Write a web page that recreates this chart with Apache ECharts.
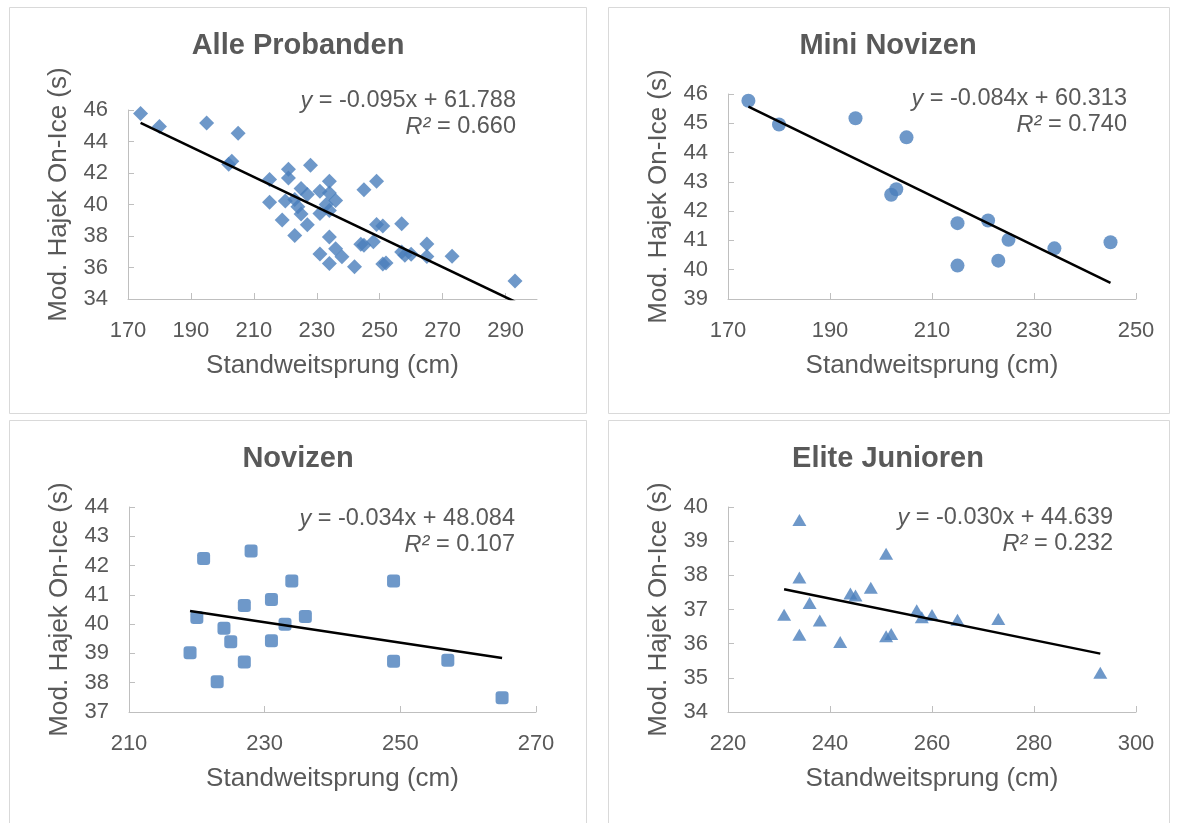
<!DOCTYPE html>
<html>
<head>
<meta charset="utf-8">
<script src="https://cdn.jsdelivr.net/npm/echarts@6/dist/echarts.min.js"></script>
<style>
  html, body { margin: 0; padding: 0; background: #fff; }
  #chart { width: 1178px; height: 823px; }
</style>
</head>
<body>
<div id="chart"></div>
<script>
// 数据 (Standweitsprung cm / Hajek s)
const miniX = [174, 180, 195, 205, 202, 203, 215, 215, 221, 225, 223, 234, 245]
const miniY = [45.77, 44.96, 45.17, 44.52, 42.56, 42.75, 41.59, 40.14, 41.68, 41.02, 40.31, 40.73, 40.94]
const novX = [221, 228, 234, 231, 227, 236, 220, 233, 224, 225, 231, 219, 227, 223, 249, 249, 257, 265]
const novY = [42.24, 42.5, 41.47, 40.84, 40.64, 40.26, 40.23, 40.0, 39.86, 39.4, 39.43, 39.02, 38.71, 38.03, 41.47, 38.73, 38.77, 37.49]
const eliteX = [234, 234, 251, 236, 231, 234, 238, 242, 244, 245, 248, 251, 252, 257, 258, 260, 265, 273, 293]
const eliteY = [39.62, 37.94, 38.63, 37.19, 36.85, 36.26, 36.68, 36.05, 37.47, 37.41, 37.64, 36.22, 36.28, 36.98, 36.77, 36.84, 36.70, 36.72, 35.15]

const titles = ['Alle Probanden', 'Mini Novizen', 'Novizen', 'Elite Junioren']
// 图上显示的公式
const slopes = [-0.095, -0.084, -0.034, -0.030]
const intercepts = [61.788, 60.313, 48.084, 44.639]
const r2 = ['0.660', '0.740', '0.107', '0.232']

// 刻度
const xTicks = [
  [170, 190, 210, 230, 250, 270, 290],
  [170, 190, 210, 230, 250],
  [210, 230, 250, 270],
  [220, 240, 260, 280, 300]
]
const xRange = [[170, 300], [170, 250], [210, 270], [220, 300]]
const yRange = [[34, 46, 2], [39, 46, 1], [37, 44, 1], [34, 40, 1]]

const FONT = "'Liberation Sans', Arial, sans-serif"
const GREY = '#595959'
const BLUE = '#4a7ebb'

const pairs = (xs, ys) => xs.map((x, i) => [x, ys[i]])
const allX = miniX.concat(novX, eliteX)
const allY = miniY.concat(novY, eliteY)
const groupX = [allX, miniX, novX, eliteX]
const groupY = [allY, miniY, novY, eliteY]
const symbols = ['diamond', 'circle', 'roundRect', 'triangle']
const symbolSizes = [15, 14, 13, [14, 12]]

// 趋势线: 最小二乘, 从最小x画到最大x
const trend = (i) => {
  const xs = groupX[i], ys = groupY[i], n = xs.length
  const mx = xs.reduce((a, b) => a + b, 0) / n
  const my = ys.reduce((a, b) => a + b, 0) / n
  let sxy = 0, sxx = 0
  xs.forEach((x, j) => { sxy += (x - mx) * (ys[j] - my); sxx += (x - mx) * (x - mx) })
  const k = sxy / sxx, b = my - k * mx
  const lo = Math.min(...xs), hi = Math.max(...xs)
  return [[lo, k * lo + b], [hi, k * hi + b]]
}

const grids = [
  {left: 128, top: 110, width: 409, height: 189},
  {left: 728, top: 94, width: 408, height: 205},
  {left: 129, top: 507, width: 407, height: 205},
  {left: 728, top: 507, width: 408, height: 205}
]
// 面板位置
const panels = [
  {x: 9.5, y: 7.5, w: 577, h: 406},
  {x: 608.5, y: 7.5, w: 561, h: 406},
  {x: 9.5, y: 420.5, w: 577, h: 420},
  {x: 608.5, y: 420.5, w: 561, h: 420}
]
const titlePos = [[298, 46], [888, 46], [298, 459], [888, 459]]
const eqPos = [[516, 101, 127], [1127, 99, 125], [515, 519, 545], [1113, 518, 544]]

const chart = echarts.init(document.getElementById('chart'))

const richI = {i: {fontStyle: 'italic', fontSize: 23.5, fontFamily: FONT, fill: GREY, color: GREY}}
const graphic = []
panels.forEach((p) => {
  graphic.push({type: 'rect', z: -10, shape: {x: p.x, y: p.y, width: p.w, height: p.h},
    style: {fill: '#fff', stroke: '#d9d9d9', lineWidth: 1}})
})
titles.forEach((t, i) => {
  graphic.push({type: 'text', x: titlePos[i][0], y: titlePos[i][1],
    style: {text: t, fill: GREY, font: 'bold 29px ' + FONT, textAlign: 'center', textVerticalAlign: 'middle'}})
  const sign = slopes[i] < 0 ? '-' : ''
  graphic.push({type: 'text', x: eqPos[i][0], y: eqPos[i][1],
    style: {text: '{i|y} = ' + sign + Math.abs(slopes[i]).toFixed(3) + 'x + ' + intercepts[i].toFixed(3),
      fill: GREY, font: '23.5px ' + FONT, textAlign: 'right', textVerticalAlign: 'middle', rich: richI}})
  graphic.push({type: 'text', x: eqPos[i][0], y: eqPos[i][2],
    style: {text: '{i|R²} = ' + r2[i],
      fill: GREY, font: '23.5px ' + FONT, textAlign: 'right', textVerticalAlign: 'middle', rich: richI}})
})

const axisLine = {show: true, lineStyle: {color: '#bfbfbf', width: 1}}
const axisTick = {show: true, inside: true, length: 6, lineStyle: {color: '#bfbfbf'}}

let option = {
  animation: false,
  backgroundColor: '#fff',
  textStyle: {fontFamily: FONT},
  grid: grids.map(g => Object.assign({outerBoundsMode: 'none', containLabel: false}, g)),
  xAxis: xTicks.map((ticks, i) => ({
    type: 'value', gridIndex: i, min: xRange[i][0], max: xRange[i][1], interval: 20,
    name: 'Standweitsprung (cm)', nameLocation: 'middle', nameGap: 54,
    nameTextStyle: {color: GREY, fontSize: 26, fontFamily: FONT},
    axisLine: axisLine,
    axisTick: Object.assign({customValues: ticks}, axisTick),
    axisLabel: {customValues: ticks, color: GREY, fontSize: 22, margin: 21, fontFamily: FONT},
    splitLine: {show: false}
  })),
  yAxis: yRange.map((r, i) => ({
    type: 'value', gridIndex: i, min: r[0], max: r[1], interval: r[2],
    name: 'Mod. Hajek On-Ice (s)', nameLocation: 'middle', nameGap: 56,
    nameTextStyle: {color: GREY, fontSize: 26, fontFamily: FONT, padding: i === 0 ? [0, 0, 0, 20] : 0},
    axisLine: axisLine,
    axisTick: axisTick,
    axisLabel: {color: GREY, fontSize: 22, margin: 20, fontFamily: FONT},
    splitLine: {show: false}
  })),
  series: []
}

groupX.forEach((xs, i) => {
  option.series.push({
    type: 'scatter', xAxisIndex: i, yAxisIndex: i,
    symbol: symbols[i], symbolSize: symbolSizes[i],
    itemStyle: {color: BLUE},
    data: pairs(xs, groupY[i])
  })
  option.series.push({
    type: 'line', xAxisIndex: i, yAxisIndex: i,
    symbol: 'none', clip: true,
    lineStyle: {color: '#000', width: 2.5},
    data: trend(i)
  })
})
option.graphic = graphic

option && chart.setOption(option)
</script>
</body>
</html>
